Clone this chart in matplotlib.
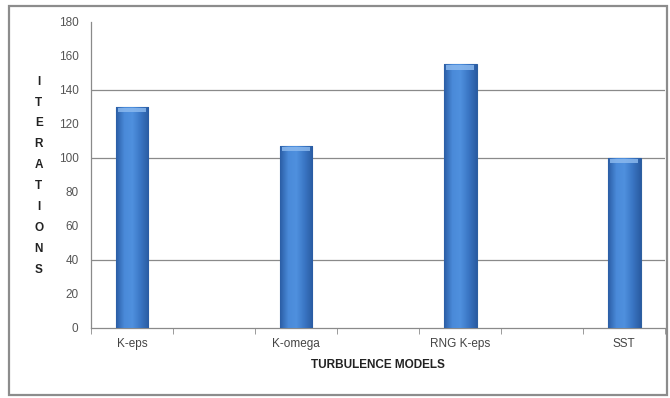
import numpy as np
import matplotlib
matplotlib.use("Agg")
import matplotlib.pyplot as plt
from matplotlib.patches import Rectangle
from matplotlib.colors import LinearSegmentedColormap

# iterations needed to converge for each turbulence model
models = ["K-eps", "K-omega", "RNG K-eps", "SST"]
iterations = [130, 107, 155, 100]

y_ticks = list(range(0, 181, 20))
grid_levels = [40, 100, 140]

plt.rcParams["font.family"] = ["Liberation Sans", "DejaVu Sans"]

fig = plt.figure(figsize=(6.7, 3.98), dpi=100)
ax = fig.add_axes([0.1358, 0.1759, 0.857, 0.769])

# models sit in every other slot, leaving gaps between the bars
positions = np.arange(len(models)) * 2
bars = ax.bar(positions, iterations, width=0.4, color="#3b79c9",
              edgecolor="#2d5f9f", linewidth=0.8, zorder=3)

# horizontal shading on each bar, darker at the sides
shade = LinearSegmentedColormap.from_list(
    "shade", ["#2b5ea6", "#4a8ad9", "#4f90de", "#3a76c4", "#2a5ca3"])
grad = np.linspace(0, 1, 64).reshape(1, -1)
for b in bars:
    x0, w, h = b.get_x(), b.get_width(), b.get_height()
    im = ax.imshow(grad, cmap=shade, aspect="auto", zorder=3.5,
                   extent=[x0, x0 + w, 0, h])
    im.set_clip_path(b)
    # lighter bevel along the top edge
    ax.add_patch(Rectangle((x0 + w * 0.08, h - 3.2), w * 0.84, 2.6,
                           facecolor="#8fbcf0", edgecolor="none",
                           alpha=0.8, zorder=4))

for lvl in grid_levels:
    ax.axhline(lvl, color="#8a8a8a", linewidth=0.9, zorder=1)

ax.set_xlim(-0.5, positions[-1] + 0.5)
ax.set_ylim(0, 180)
ax.set_yticks(y_ticks)
ax.set_yticklabels([str(v) for v in y_ticks], fontsize=8.5, color="#555555")
ax.tick_params(axis="y", length=0, pad=9)
ax.set_yticks([0] + grid_levels, minor=True)
ax.tick_params(axis="y", which="minor", length=4, color="#8a8a8a")

ax.set_xticks(positions)
ax.set_xticklabels(models, fontsize=8.5, color="#444444")
ax.tick_params(axis="x", length=0, pad=7)
ax.set_xticks(np.arange(-0.5, positions[-1] + 0.6, 1.0), minor=True)
ax.tick_params(axis="x", which="minor", length=4, color="#8a8a8a")

for side in ["top", "right"]:
    ax.spines[side].set_visible(False)
for side in ["left", "bottom"]:
    ax.spines[side].set_color("#8a8a8a")
    ax.spines[side].set_linewidth(0.9)

ax.set_xlabel("TURBULENCE MODELS", fontsize=8.5, fontweight="bold",
              color="#222222", labelpad=7)

fig.text(0.058, 0.81, "\n".join("ITERATIONS"), fontsize=8.5,
         fontweight="bold", color="#222222", ha="center", va="top",
         linespacing=1.99)

# outer chart frame
fig.patches.append(Rectangle((0.013, 0.008), 0.982, 0.978,
                             transform=fig.transFigure, fill=False,
                             edgecolor="#8c8c8c", linewidth=1.6))

fig.savefig("out.png", dpi=100)
